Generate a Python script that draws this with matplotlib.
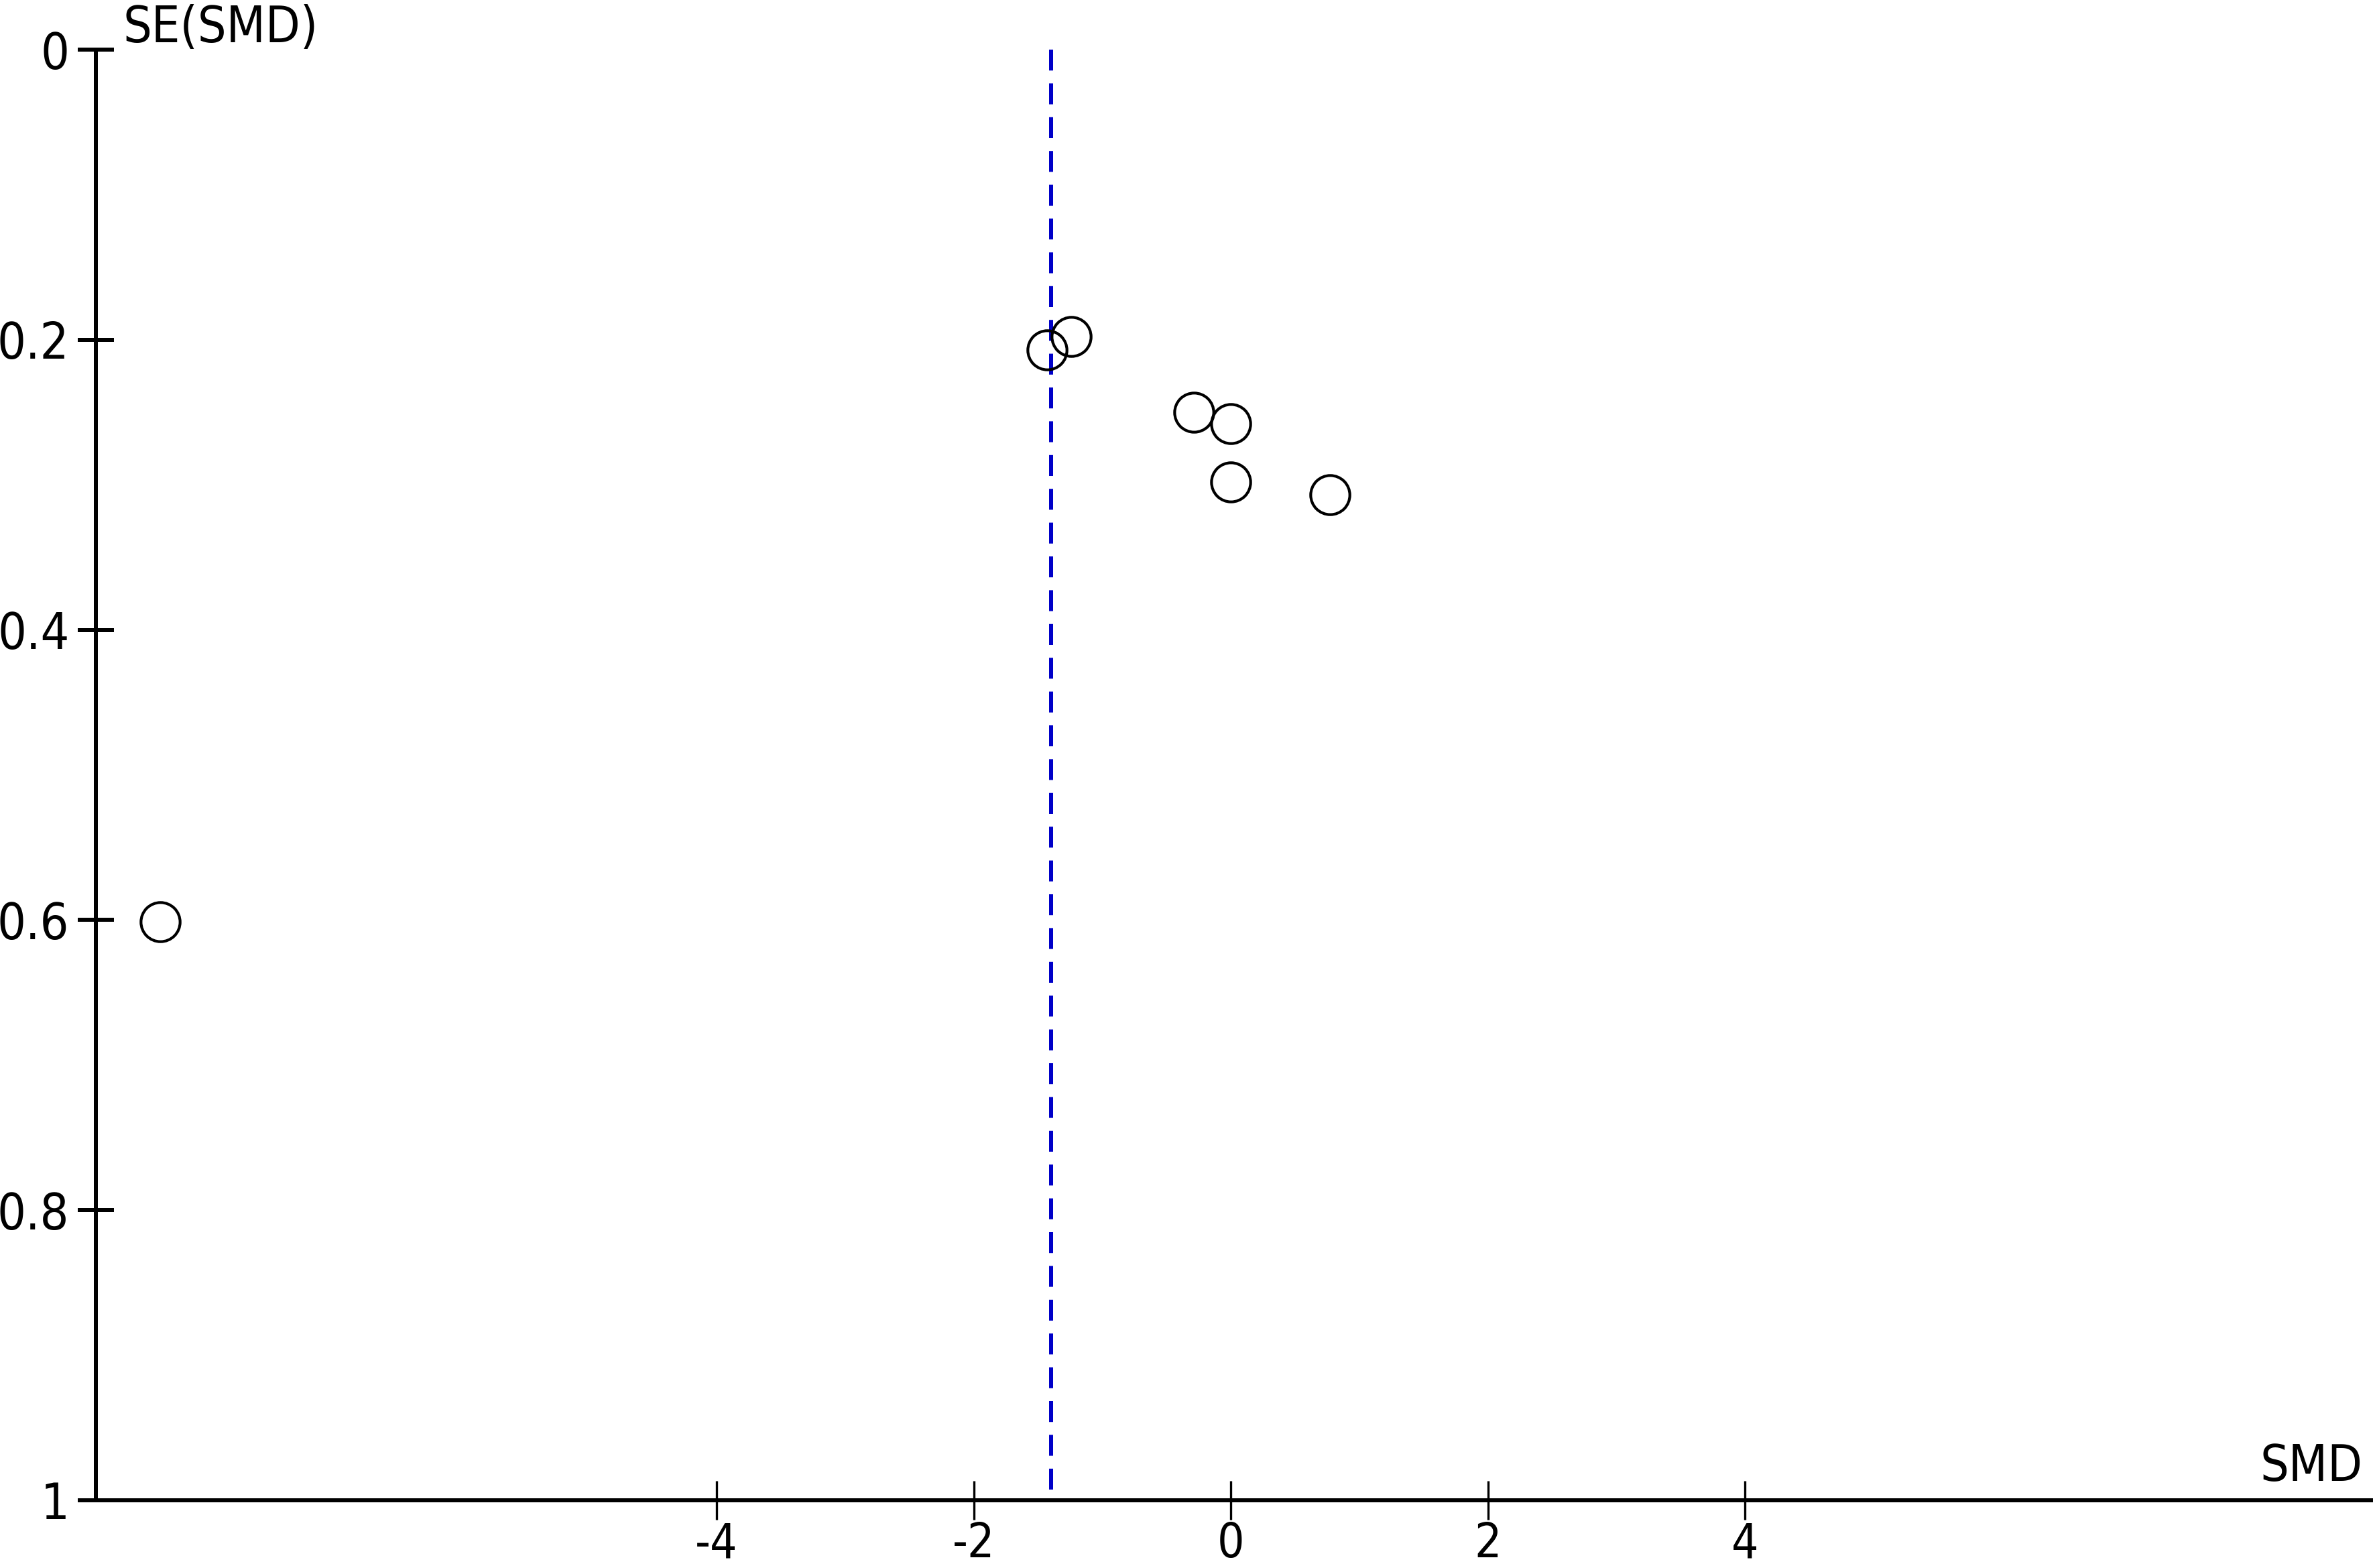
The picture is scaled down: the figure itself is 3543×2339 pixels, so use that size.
import matplotlib as mpl
mpl.use('Agg')
import matplotlib.pyplot as plt
from matplotlib import font_manager

# funnel plot data: SMD (x) vs SE(SMD) (y)
smd = [-8.33, -1.43, -1.24, -0.29, 0.00, 0.00, 0.77]
se_smd = [0.601, 0.207, 0.198, 0.250, 0.258, 0.298, 0.307]
pooled_smd = -1.40

x_ticks = [-4, -2, 0, 2, 4]
x_tick_labels = ['-4', '-2', '0', '2', '4']
y_ticks = [0, 0.2, 0.4, 0.6, 0.8, 1]
y_tick_labels = ['0', '0.2', '0.4', '0.6', '0.8', '1']


def pick_font(size):
    """Tall, narrow face like the original bitmap font, if one is installed."""
    fonts = font_manager.fontManager.ttflist
    condensed = [f for f in fonts if f.name == 'DejaVu Sans' and f.stretch == 'condensed'
                 and f.style == 'normal' and f.weight in (400, 'normal')]
    if condensed:
        fp = font_manager.FontProperties(fname=condensed[0].fname)
    else:
        fp = font_manager.FontProperties(family='DejaVu Sans')
        size -= 1.5
    fp.set_size(size)
    return fp


FONT = pick_font(18)
FONT_X = pick_font(17)

mpl.rcParams['axes.unicode_minus'] = False

W, H = 3543, 2339
DPI = 300
fig = plt.figure(figsize=(W / DPI, H / DPI), dpi=DPI)

# axes box in pixel coordinates of the reference
left, right, top, bottom = 143, 3537, 74, 2238
ax = fig.add_axes([left / W, 1 - bottom / H, (right - left) / W, (bottom - top) / H])

ax.plot([pooled_smd, pooled_smd], [0, 1], color='#0000C8', lw=1.44,
        dashes=(5.2, 3.2), dash_capstyle='butt', zorder=2)
ax.plot(smd, se_smd, 'o', ms=14, mfc='none', mec='black', mew=1.0, zorder=3)

ax.set_xlim(-8.83, 8.87)
ax.set_ylim(1, 0)

for s in ['top', 'right']:
    ax.spines[s].set_visible(False)
for s in ['left', 'bottom']:
    ax.spines[s].set_linewidth(1.44)

ax.set_xticks(x_ticks)
ax.set_xticklabels(x_tick_labels, fontproperties=FONT_X)
ax.set_yticks(y_ticks)
ax.set_yticklabels(y_tick_labels, fontproperties=FONT)
ax.tick_params(axis='x', direction='inout', length=14, width=0.8, pad=0.5)
ax.tick_params(axis='y', direction='inout', length=13, width=1.44, pad=3)
ax.patch.set_visible(False)

fig.text(183 / W, 1 - 63 / H, 'SE(SMD)', ha='left', va='baseline', fontproperties=FONT)
fig.text(3525 / W, 1 - 2209 / H, 'SMD', ha='right', va='baseline', fontproperties=FONT)

fig.savefig('out.png', dpi=DPI)
plt.close(fig)
